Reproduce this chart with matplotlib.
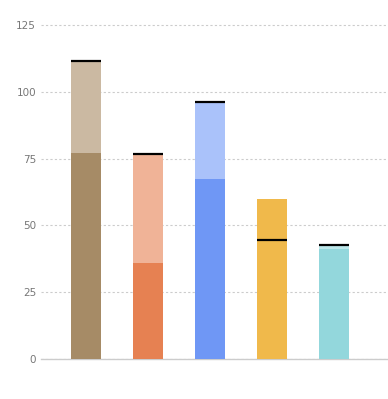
import numpy as np
import matplotlib.pyplot as plt

plt.rcParams.update({
    "font.family": "DejaVu Sans",
    "font.size": 8,
})

# ---- data -----------------------------------------------------------------
categories = ["A", "B", "C", "D", "E"]
actual = [77, 36, 67.5, 60, 41.3]          # solid front bars
target = [111.5, 76.7, 96.2, 44.5, 42.6]   # pale back bars + black marker
y_ticks = [0, 25, 50, 75, 100, 125]

COL_DARK = ["#a68b66", "#e68152", "#6f97f5", "#f0b94b", "#93d7dc"]
COL_LIGHT = ["#cbb9a2", "#f0b397", "#aac2fa", "#f6d592", "#bde7ea"]

fig = plt.figure(figsize=(3.88, 3.99), dpi=100)
ax = fig.add_axes([41 / 388, 40 / 399, 1 - 41 / 388, (359 - 23.7) / 399])

x = np.arange(len(categories))
w = 0.48

ax.bar(x, target, width=w, color=COL_LIGHT, zorder=2)
ax.bar(x, actual, width=w, color=COL_DARK, zorder=3)
ax.hlines(target, x - w / 2, x + w / 2, color="black", lw=1.6, zorder=4)

ax.set_xlim(-0.726, 4.87)
ax.set_ylim(0, 125.5)
ax.set_yticks(y_ticks)
ax.set_xticks([])
ax.tick_params(axis="y", length=0, pad=3.6, colors="#777777", labelsize=7.5)

for s in ["top", "right", "left"]:
    ax.spines[s].set_visible(False)
ax.spines["bottom"].set_color("#cccccc")
ax.spines["bottom"].set_linewidth(1)

ax.yaxis.grid(True, color="#cccccc", ls=(0, (2, 2)), lw=0.8, zorder=0)
ax.set_axisbelow(True)

fig.savefig("out.png", dpi=100)
